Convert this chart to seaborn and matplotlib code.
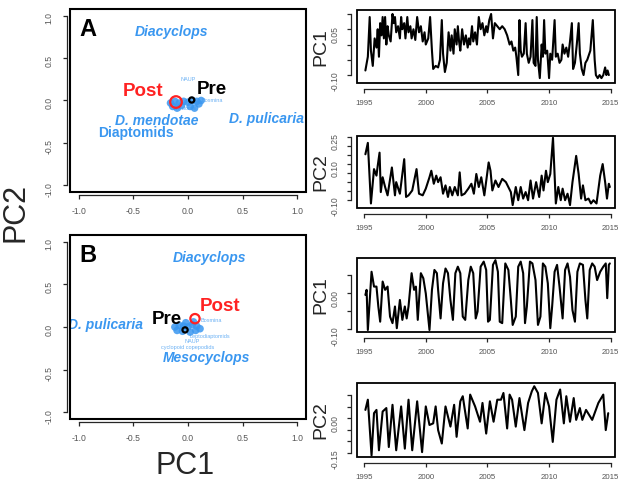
import matplotlib
matplotlib.use("Agg")
import matplotlib.pyplot as plt
import seaborn as sns
import pandas as pd
from matplotlib.patches import Rectangle

sns.set_theme(style="ticks")
plt.rcParams["font.family"] = ["Liberation Sans", "DejaVu Sans"]

BLUE = "#3a97f0"
RED = "#ff2222"
TICK_GREY = "#555555"

# ---------------- ordination (biplot) data ----------------
sites = ["Pre", "Post"]
site_colors = ["black", RED]

# panel A: site scores and label positions
a_site_x = [0.034, -0.11]
a_site_y = [0.006, -0.018]
a_site_lab_x = [0.215, -0.41]
a_site_lab_y = [0.134, 0.105]

a_species = ["Diacyclops", "D. mendotae", "Diaptomids", "D. pulicaria"]
a_sp_x = [-0.15, -0.285, -0.48, 0.72]
a_sp_y = [0.81, -0.237, -0.385, -0.213]
a_sp_italic = [True, True, False, True]

a_minor = ["NAUP", "Bosmina", "Chydorus"]
a_minor_x = [0.0, 0.22, -0.03]
a_minor_y = [0.245, 0.0, -0.10]

a_cloud_x = [-0.16, -0.12, -0.08, -0.04, 0.0, 0.04, 0.08, 0.12, -0.14, -0.06, 0.02, 0.1, -0.1, 0.06]
a_cloud_y = [-0.03, -0.01, -0.03, -0.01, -0.02, 0.0, -0.01, 0.0, -0.07, -0.06, -0.07, -0.04, -0.09, -0.09]

# panel B
b_site_x = [-0.027, 0.064]
b_site_y = [-0.034, 0.098]
b_site_lab_x = [-0.194, 0.29]
b_site_lab_y = [0.09, 0.245]

b_species = ["Diacyclops", "D. pulicaria", "Mesocyclops"]
b_sp_x = [0.194, -0.755, 0.17]
b_sp_y = [0.81, 0.026, -0.36]
b_sp_italic = [True, True, True]

b_minor = ["Bosmina", "Leptodiaptomids", "NAUP", "cyclopoid copepodids"]
b_minor_x = [0.21, 0.2, 0.04, 0.0]
b_minor_y = [0.08, -0.11, -0.175, -0.245]

b_cloud_x = [-0.12, -0.08, -0.04, 0.0, 0.04, 0.08, 0.11, -0.1, -0.05, 0.02, 0.07, -0.02, 0.05]
b_cloud_y = [0.0, 0.02, 0.01, 0.0, 0.03, 0.01, -0.02, -0.04, -0.05, -0.06, -0.04, 0.05, 0.06]

# ---------------- PC time series ----------------
pc1a_year = [1995.1, 1995.3, 1995.45, 1995.55, 1995.7, 1995.85, 1996.0, 1996.1, 1996.2, 1996.3,
             1996.4, 1996.5, 1996.6, 1996.7, 1996.8, 1996.9, 1997.0, 1997.15, 1997.3, 1997.4,
             1997.5, 1997.6, 1997.75, 1997.9, 1998.0, 1998.1, 1998.25, 1998.35, 1998.5, 1998.6,
             1998.75, 1998.85, 1999.0, 1999.15, 1999.3, 1999.45, 1999.6, 1999.75, 1999.9, 2000.0,
             2000.2, 2000.35, 2000.5, 2000.6, 2000.8, 2001.0, 2001.15, 2001.3, 2001.4, 2001.55,
             2001.7, 2001.85, 2002.0, 2002.1, 2002.25, 2002.35, 2002.5, 2002.6, 2002.7, 2002.8,
             2002.95, 2003.1, 2003.25, 2003.4, 2003.5, 2003.6, 2003.75, 2003.85, 2004.0, 2004.15,
             2004.3, 2004.45, 2004.6, 2004.75, 2004.9, 2005.0, 2005.15, 2005.3, 2005.45, 2005.6,
             2005.8, 2006.0, 2006.2, 2006.4, 2006.6, 2006.8, 2006.95, 2007.1, 2007.25, 2007.35,
             2007.5, 2007.6, 2007.7, 2007.8, 2007.95, 2008.1, 2008.2, 2008.35, 2008.5, 2008.65,
             2008.75, 2008.9, 2009.0, 2009.1, 2009.25, 2009.4, 2009.5, 2009.6, 2009.7, 2009.85,
             2010.0, 2010.1, 2010.25, 2010.45, 2010.55, 2010.7, 2010.85, 2011.0, 2011.1, 2011.25,
             2011.4, 2011.55, 2011.7, 2011.85, 2011.95, 2012.1, 2012.25, 2012.4, 2012.5, 2012.65,
             2012.8, 2012.95, 2013.1, 2013.35, 2013.55, 2013.7, 2013.8, 2013.95, 2014.1, 2014.25,
             2014.4, 2014.55, 2014.65, 2014.75, 2014.85]
pc1a_val = [-0.085, -0.04, 0.09, -0.02, -0.07, 0.02, -0.01, 0.05, -0.04, 0.07,
            0.03, 0.09, 0.02, 0.09, 0.0, 0.06, 0.03, 0.01, 0.1, 0.07,
            0.09, 0.04, 0.06, 0.02, 0.09, 0.05, 0.07, 0.02, 0.09, 0.04,
            0.06, 0.02, 0.05, 0.015, 0.09, 0.04, 0.06, 0.01, 0.04, 0.0,
            0.02, 0.09, -0.02, -0.08, -0.07, -0.075, -0.05, 0.08, -0.03, -0.09,
            -0.06, 0.04, -0.02, 0.03, -0.03, 0.05, 0.0, 0.06, 0.01, -0.02,
            0.05, 0.0, 0.03, -0.01, 0.02, 0.0, 0.06, 0.01, 0.04, 0.0,
            0.09, 0.05, 0.07, 0.03, 0.06, 0.04, 0.08, 0.1, 0.02, 0.07,
            0.06, 0.05, 0.06, 0.05, 0.03, 0.0, 0.01, -0.02, -0.01, -0.04,
            -0.1, 0.08, -0.02, -0.04, -0.03, 0.07, -0.03, -0.06, -0.04, 0.08,
            -0.06, -0.07, 0.09, -0.05, -0.11, 0.0, -0.04, 0.08, -0.03, -0.02,
            -0.11, -0.03, -0.05, 0.08, -0.04, -0.03, -0.06, -0.05, 0.0, -0.03,
            -0.01, -0.04, 0.01, 0.07, -0.08, -0.06, 0.0, 0.07, -0.03, -0.08,
            -0.1, -0.06, -0.05, -0.02, 0.08, -0.05, -0.1, -0.11, -0.1, -0.11,
            -0.1, -0.075, -0.1, -0.085, -0.1]

pc2a_year = [1995.1, 1995.3, 1995.55, 1995.8, 1996.0, 1996.1, 1996.25, 1996.35, 1996.5, 1996.7,
             1996.9, 1997.25, 1997.5, 1997.6, 1997.9, 1998.25, 1998.4, 1998.6, 1998.9, 1999.25,
             1999.45, 1999.75, 2000.0, 2000.3, 2000.45, 2000.65, 2000.85, 2001.0, 2001.2, 2001.4,
             2001.6, 2001.8, 2001.95, 2002.15, 2002.35, 2002.6, 2002.75, 2002.9, 2003.15, 2003.45,
             2003.7, 2003.9, 2004.1, 2004.3, 2004.5, 2004.75, 2005.1, 2005.25, 2005.4, 2005.65,
             2005.9, 2006.2, 2006.5, 2006.9, 2007.05, 2007.3, 2007.5, 2007.7, 2007.9, 2008.1,
             2008.3, 2008.5, 2008.7, 2008.95, 2009.2, 2009.4, 2009.55, 2009.75, 2009.9, 2010.1,
             2010.32, 2010.55, 2010.75, 2010.95, 2011.1, 2011.3, 2011.5, 2011.7, 2011.9, 2012.2,
             2012.4, 2012.6, 2012.75, 2012.95, 2013.2, 2013.4, 2013.6, 2013.85, 2014.15, 2014.35,
             2014.55, 2014.7, 2014.85, 2014.93]
pc2a_val = [0.154, 0.217, -0.118, 0.072, 0.036, 0.09, 0.163, -0.055, 0.027, -0.027,
            -0.073, 0.081, -0.073, 0.0, -0.064, 0.127, -0.082, -0.073, -0.046, 0.072,
            -0.064, -0.073, -0.036, 0.027, 0.063, -0.009, 0.036, 0.0, 0.027, -0.064,
            -0.018, -0.082, -0.027, -0.073, -0.027, -0.073, 0.054, -0.073, -0.064, -0.036,
            -0.009, -0.064, 0.045, -0.027, 0.027, -0.073, 0.109, 0.063, -0.046, 0.009,
            -0.027, 0.018, 0.0, -0.055, -0.127, -0.027, -0.1, -0.027, -0.091, -0.055,
            -0.1, 0.009, -0.091, 0.0, -0.082, 0.036, -0.046, 0.063, 0.0, 0.045,
            0.245, -0.118, -0.027, -0.1, -0.036, -0.1, -0.064, -0.127, 0.0, 0.145,
            0.045, -0.091, -0.018, -0.1, -0.091, -0.118, -0.1, -0.118, 0.036, 0.1,
            0.0, -0.091, -0.009, -0.027]

pc1b_year = [1995.1, 1995.2, 1995.3, 1995.6, 1995.8, 1996.0, 1996.15, 1996.3, 1996.5, 1996.7,
             1996.9, 1997.1, 1997.3, 1997.5, 1997.65, 1997.9, 1998.1, 1998.3, 1998.45, 1998.6,
             1998.85, 1999.05, 1999.2, 1999.35, 1999.6, 1999.8, 2000.0, 2000.3, 2000.5, 2000.7,
             2000.9, 2001.0, 2001.2, 2001.4, 2001.6, 2001.8, 2002.0, 2002.2, 2002.4, 2002.6,
             2002.8, 2003.0, 2003.2, 2003.45, 2003.65, 2003.85, 2004.05, 2004.2, 2004.45, 2004.7,
             2004.9, 2005.05, 2005.2, 2005.45, 2005.65, 2005.85, 2006.0, 2006.2, 2006.45, 2006.7,
             2006.9, 2007.05, 2007.3, 2007.5, 2007.7, 2007.9, 2008.05, 2008.2, 2008.45, 2008.65,
             2008.9, 2009.1, 2009.3, 2009.5, 2009.7, 2009.9, 2010.1, 2010.25, 2010.45, 2010.65,
             2010.85, 2011.1, 2011.3, 2011.5, 2011.7, 2011.9, 2012.1, 2012.3, 2012.5, 2012.75,
             2012.95, 2013.1, 2013.3, 2013.5, 2013.7, 2013.9, 2014.15, 2014.4, 2014.6, 2014.72,
             2014.85, 2014.93]
pc1b_val = [-0.005, 0.009, -0.102, 0.059, 0.018, 0.018, -0.037, -0.079, 0.032, 0.009,
            0.018, -0.065, -0.083, -0.037, -0.097, -0.019, -0.074, -0.037, -0.07, -0.037,
            0.055, 0.009, 0.018, -0.074, 0.055, 0.041, -0.001, -0.102, 0.009, 0.064,
            0.055, 0.009, -0.07, 0.027, 0.068, 0.055, -0.019, -0.074, 0.055, 0.073,
            0.055, -0.065, -0.074, 0.036, 0.073, 0.055, -0.07, -0.051, 0.073, 0.087,
            0.064, -0.079, -0.074, 0.078, 0.091, 0.059, -0.079, -0.083, 0.082, 0.064,
            -0.019, -0.088, -0.065, 0.073, 0.087, 0.055, -0.083, -0.037, 0.087, 0.082,
            0.036, -0.088, -0.065, 0.082, 0.073, 0.027, -0.097, -0.037, 0.059, 0.078,
            0.018, -0.07, 0.064, 0.082, 0.045, -0.047, -0.079, 0.059, 0.082, 0.078,
            -0.019, -0.07, 0.064, 0.082, 0.073, 0.036, 0.059, 0.073, 0.082, -0.014,
            0.078, 0.082]

pc2b_year = [1995.1, 1995.3, 1995.6, 1995.8, 1996.0, 1996.2, 1996.5, 1996.8, 1997.0, 1997.3,
             1997.6, 1998.0, 1998.3, 1998.6, 1998.9, 1999.3, 1999.7, 2000.0, 2000.3, 2000.6,
             2000.8, 2001.0, 2001.3, 2001.6, 2002.0, 2002.3, 2002.5, 2002.8, 2003.0, 2003.4,
             2003.6, 2004.0, 2004.4, 2004.6, 2004.9, 2005.2, 2005.5, 2005.8, 2006.1, 2006.3,
             2006.6, 2006.8, 2007.0, 2007.3, 2007.6, 2008.0, 2008.3, 2008.6, 2008.8, 2009.1,
             2009.4, 2009.7, 2010.0, 2010.3, 2010.6, 2010.9, 2011.2, 2011.4, 2011.7, 2012.0,
             2012.2, 2012.5, 2012.7, 2013.0, 2013.5, 2014.0, 2014.4, 2014.6, 2014.8]
pc2b_val = [0.036, 0.08, -0.16, 0.022, 0.036, -0.138, 0.029, 0.044, -0.124, 0.058,
            -0.138, 0.051, -0.131, 0.08, -0.138, 0.073, -0.146, 0.051, -0.029, -0.022,
            0.051, -0.051, -0.109, 0.051, -0.036, 0.058, -0.08, 0.073, 0.095, -0.044,
            0.102, 0.051, -0.015, 0.066, -0.066, 0.073, -0.015, 0.08, 0.08, 0.109,
            -0.044, 0.102, 0.08, -0.036, 0.087, -0.051, 0.066, 0.116, 0.138, 0.109,
            -0.022, 0.109, 0.051, -0.102, 0.08, 0.124, -0.022, 0.095, -0.015, 0.087,
            -0.007, 0.044, -0.007, 0.036, -0.007, 0.066, 0.102, -0.051, 0.022]

year_ticks = [1995, 2000, 2005, 2010, 2015]

W, H = 618, 482
fig = plt.figure(figsize=(W / 100, H / 100), dpi=100)


def rect(left, top, right, bottom):
    return [left / W, 1 - bottom / H, (right - left) / W, (bottom - top) / H]


def frame(ax, lw):
    ax.add_patch(Rectangle((0, 0), 1, 1, transform=ax.transAxes, fill=False,
                           lw=lw, ec="black", clip_on=False, zorder=5))


def style_axes(ax, xticks, xlabels, yticks, ylabels, xpad, ypad, offset, xb, yb,
               frame_lw, xsize):
    # tick_params first: changing the pad rebuilds the tick labels
    ax.tick_params(axis="x", length=3, width=0.9, pad=xpad, labelsize=xsize,
                   labelcolor=TICK_GREY)
    ax.tick_params(axis="y", length=3, width=0.9, pad=ypad, labelsize=6.2,
                   labelcolor=TICK_GREY, labelrotation=90)
    ax.set_xticks(xticks)
    ax.set_xticklabels(xlabels)
    ax.set_yticks(yticks)
    ax.set_yticklabels(ylabels)
    for lbl in ax.get_yticklabels():
        lbl.set_verticalalignment("center")
    for s in ["top", "right"]:
        ax.spines[s].set_visible(False)
    for s in ["left", "bottom"]:
        ax.spines[s].set_position(("outward", offset))
        ax.spines[s].set_linewidth(0.9)
    ax.spines["bottom"].set_bounds(*xb)
    ax.spines["left"].set_bounds(*yb)
    frame(ax, frame_lw)
    ax.set_xlabel("")
    ax.set_ylabel("")


def biplot(r, letter, site_x, site_y, lab_x, lab_y, sp, sp_x, sp_y, sp_it,
           minor, minor_x, minor_y, cloud_x, cloud_y, red_size):
    ax = fig.add_axes(rect(*r))
    cloud = pd.DataFrame({"x": cloud_x, "y": cloud_y})
    sns.scatterplot(data=cloud, x="x", y="y", ax=ax, color=BLUE, s=30,
                    edgecolor="none", alpha=0.85, legend=False)
    for name, x, y in zip(minor, minor_x, minor_y):
        ax.text(x, y, name, color=BLUE, fontsize=4.0, ha="center", va="center", alpha=0.75)
    for name, x, y, it in zip(sp, sp_x, sp_y, sp_it):
        ax.text(x, y, name, color=BLUE, fontsize=10, fontweight="bold",
                style="italic" if it else "normal", ha="center", va="center",
                clip_on=True)

    pts = pd.DataFrame({"x": site_x, "y": site_y, "site": sites})
    sns.scatterplot(data=pts, x="x", y="y", hue="site", palette=dict(zip(sites, site_colors)),
                    ax=ax, s=[14, red_size], marker="o", linewidth=1.6,
                    legend=False, zorder=4)
    ring = ax.collections[-1]
    ring.set_edgecolors(ring.get_facecolors())
    ring.set_facecolors("none")
    for name, x, y, c in zip(sites, lab_x, lab_y, site_colors):
        ax.text(x, y, name, color=c, fontsize=13.5, fontweight="bold",
                ha="center", va="center", zorder=6)
    ax.text(-0.92, 0.84, letter, fontsize=17, fontweight="bold", ha="center",
            va="center", color="black")
    ax.set_xlim(-1.08, 1.08)
    ax.set_ylim(-1.08, 1.08)
    ticks = [-1.0, -0.5, 0.0, 0.5, 1.0]
    labels = [f"{t:.1f}" for t in ticks]
    style_axes(ax, ticks, labels, ticks, labels, 6.0, 7.0, 2, (-1, 1), (-1, 1), 1.5, 6.2)
    return ax


def series(r, years, vals, ylim, ticks, labels, name, label_y):
    ax = fig.add_axes(rect(*r))
    df = pd.DataFrame({"year": years, "pc": vals})
    sns.lineplot(data=df, x="year", y="pc", ax=ax, color="black", lw=1.5,
                 sort=False, estimator=None)
    ax.set_xlim(1994.42, 2015.35)
    ax.set_ylim(*ylim)
    style_axes(ax, year_ticks, [str(y) for y in year_ticks], ticks, labels,
               5.0, 5.5, 4, (1995, 2015), (ticks[0], ticks[-1]), 1.3, 5.7)
    fig.text(321 / W, 1 - label_y / H, name, rotation=90, fontsize=14,
             ha="center", va="center")
    return ax


biplot((70, 9, 306, 192), "A", a_site_x, a_site_y, a_site_lab_x, a_site_lab_y,
       a_species, a_sp_x, a_sp_y, a_sp_italic, a_minor, a_minor_x, a_minor_y,
       a_cloud_x, a_cloud_y, 70)
biplot((70, 235, 306, 419), "B", b_site_x, b_site_y, b_site_lab_x, b_site_lab_y,
       b_species, b_sp_x, b_sp_y, b_sp_italic, b_minor, b_minor_x, b_minor_y,
       b_cloud_x, b_cloud_y, 45)

series((357, 10, 615, 83), pc1a_year, pc1a_val, (-0.126, 0.113),
       [-0.10, -0.05, 0.0, 0.05, 0.10], ["-0.10", "", "", "0.05", ""], "PC1", 47)
series((357, 136, 615, 208), pc2a_year, pc2a_val, (-0.143, 0.255),
       [-0.10, -0.05, 0.0, 0.05, 0.10, 0.15, 0.20, 0.25],
       ["-0.10", "", "", "", "0.10", "", "", "0.25"], "PC2", 172)
series((357, 258, 615, 332), pc1b_year, pc1b_val, (-0.1075, 0.097),
       [-0.10, -0.05, 0.0, 0.05], ["-0.10", "", "0.00", ""], "PC1", 295)
series((357, 383, 615, 457), pc2b_year, pc2b_val, (-0.167, 0.152),
       [-0.15, -0.10, -0.05, 0.0, 0.05, 0.10], ["-0.15", "", "", "0.00", "", ""], "PC2", 420)

fig.text(16 / W, 1 - 212 / H, "PC2", rotation=90, fontsize=22, ha="center", va="center")
fig.text(185 / W, 1 - 466 / H, "PC1", fontsize=22, ha="center", va="center")

fig.savefig("out.png", dpi=100)
